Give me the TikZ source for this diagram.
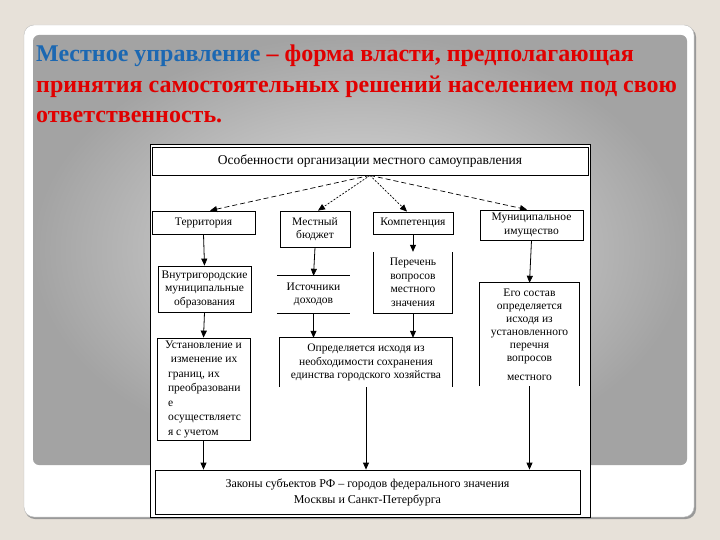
\documentclass[tikz,border=0pt]{standalone}
\usepackage{fontspec}
\setmainfont{Liberation Serif}
\usepackage{tikz}
\usetikzlibrary{shapes, arrows, arrows.meta}
\usetikzlibrary{positioning}
\definecolor{slidebg}{RGB}{231,225,217}
\definecolor{titleblue}{RGB}{28,104,178}
\definecolor{titlered}{RGB}{225,0,0}
\tikzstyle{box} = [rectangle, draw = black, line width = 0.8, text centered,
  inner sep = 1, font = \fontsize{11.5}{13.5}\selectfont]
\tikzstyle{openbox} = [rectangle, text centered, inner sep = 1,
  font = \fontsize{11.5}{13.5}\selectfont]
\tikzstyle{side} = [line width = 0.8]
\tikzstyle{farline} = [->, line width = 0.7, dash pattern = on 5pt off 3pt]
\tikzstyle{nearline} = [->, line width = 0.7, dash pattern = on 2pt off 1.5pt]

\begin{document}
\begin{tikzpicture}[x = 1pt, y = -1pt, node distance = 0,
    >= {Triangle[length = 7, width = 6]}]
    % slide
    \useasboundingbox [fill = slidebg] (0, 0) rectangle (720, 540);
    \fill [black!40, rounded corners = 10] (25, 27) rectangle (696, 519);
    \filldraw [fill = white, draw = black!25, rounded corners = 10] (24, 25)
    rectangle (694, 517);
    \shade [inner color = black!11, outer color = black!36, rounded corners = 6]
    (33, 35) rectangle (687, 465);
    % title
    \node [anchor = north west, align = left, inner sep = 0,
      font = \fontsize{24}{30.5}\selectfont\bfseries] (title) at (36, 45)
    {{\color{titleblue}Местное управление} {\color{titlered}– форма власти,
        предполагающая}\\
      \color{titlered}принятия самостоятельных решений населением под свою\\
      \color{titlered}ответственность.};
    % sheet
    \filldraw [fill = white, draw = black, line width = 0.5] (150, 144)
    rectangle (590, 517);
    % top
    \node [box, minimum width = 436, minimum height = 28,
      font = \fontsize{13.5}{14}\selectfont] (box-top) at (370, 161)
    {Особенности организации местного самоуправления};
    % row 1
    \node [box, below of = box-top, xshift = -166.5, yshift = -61.5,
      minimum width = 103, minimum height = 23] (box-territory) {Территория};
    \node [box, below of = box-top, xshift = -55, yshift = -68,
      minimum width = 70, minimum height = 36, align = center] (box-budget)
    {Местный\\бюджет};
    \node [box, below of = box-top, xshift = 43, yshift = -62,
      minimum width = 80, minimum height = 22] (box-competence) {Компетенция};
    \node [box, below of = box-top, xshift = 161.5, yshift = -64,
      minimum width = 103, minimum height = 30, align = center] (box-property)
    {Муниципальное\\имущество};
    % row 2
    \node [box, below of = box-territory, xshift = 1, yshift = -66.5,
      minimum width = 93, minimum height = 46, align = center] (box-inner)
    {Внутригородские\\муниципальные\\образования};
    \node [openbox, below of = box-budget, xshift = -1.5, yshift = -65.5,
      minimum width = 73, minimum height = 37, align = center] (box-income)
    {Источники\\доходов};
    \node [openbox, below of = box-competence, yshift = -59.5,
      minimum width = 78, minimum height = 61, align = center] (box-list)
    {Перечень\\вопросов\\местного\\значения};
    \node [openbox, below of = box-property, xshift = -2, yshift = -109.5,
      minimum width = 99, minimum height = 103, align = center,
      font = \fontsize{11.5}{13}\selectfont] (box-composition)
    {Его состав\\определяется\\исходя из\\установленного\\перечня\\вопросов\\[6pt]
      местного};
    % row 3
    \node [box, below of = box-inner, xshift = -1, yshift = -100,
      minimum width = 93, minimum height = 102, align = left,
      font = \fontsize{11.5}{14.5}\selectfont] (box-change)
    {Установление и\\\ \ изменение их\\\ границ, их\\\ преобразовани\\\ е\\
      \ осуществляетс\\\ я с учетом};
    \node [openbox, below of = box-income, xshift = 52.5, yshift = -68,
      minimum width = 172, minimum height = 49, align = center] (box-define)
    {Определяется исходя из\\необходимости сохранения\\единства городского
      хозяйства};
    % bottom
    \node [box, below of = box-define, xshift = 1.5, yshift = -129.5,
      minimum width = 425, minimum height = 44, align = center,
      font = \fontsize{12}{16}\selectfont] (box-laws)
    {Законы субъектов РФ – городов федерального значения\\Москвы и
      Санкт-Петербурга};

    % open sides
    \draw [side] (box-income.north west) -- (box-income.north east);
    \draw [side] (box-income.south west) -- (box-income.south east);
    \draw [side] (box-list.north west) -- (box-list.south west) --
    (box-list.south east) -- (box-list.north east);
    \draw [side] (box-composition.south west) -- (box-composition.north west) --
    (box-composition.north east) -- (box-composition.south east);
    \draw [side] (box-define.south west) -- (box-define.north west) --
    (box-define.north east) -- (box-define.south east);

    \draw [farline] (box-top.south) -- ([xshift = 6.5]box-territory.north);
    \draw [nearline] (box-top.south) -- ([xshift = 3]box-budget.north);
    \draw [nearline] (box-top.south) -- ([xshift = -6]box-competence.north);
    \draw [farline] (box-top.south) -- ([xshift = -4.5]box-property.north);
    \draw [->, side] (box-territory.south) -- (box-inner.north);
    \draw [->, side] (box-budget.south) -- (box-income.north);
    \draw [->, side] (box-competence.south) -- (box-list.north);
    \draw [->, side] (box-property.south) -- (box-composition.north);
    \draw [->, side] (box-inner.south) -- (box-change.north);
    \draw [->, side] (box-income.south) -- (box-income.south |- box-define.north);
    \draw [->, side] (box-list.south) -- (box-list.south |- box-define.north);
    \draw [->, side] (box-change.south) -- (box-change.south |- box-laws.north);
    \draw [->, side] (box-define.south) -- (box-define.south |- box-laws.north);
    \draw [->, side] (box-composition.south) --
    (box-composition.south |- box-laws.north);
  \end{tikzpicture}
\end{document}
